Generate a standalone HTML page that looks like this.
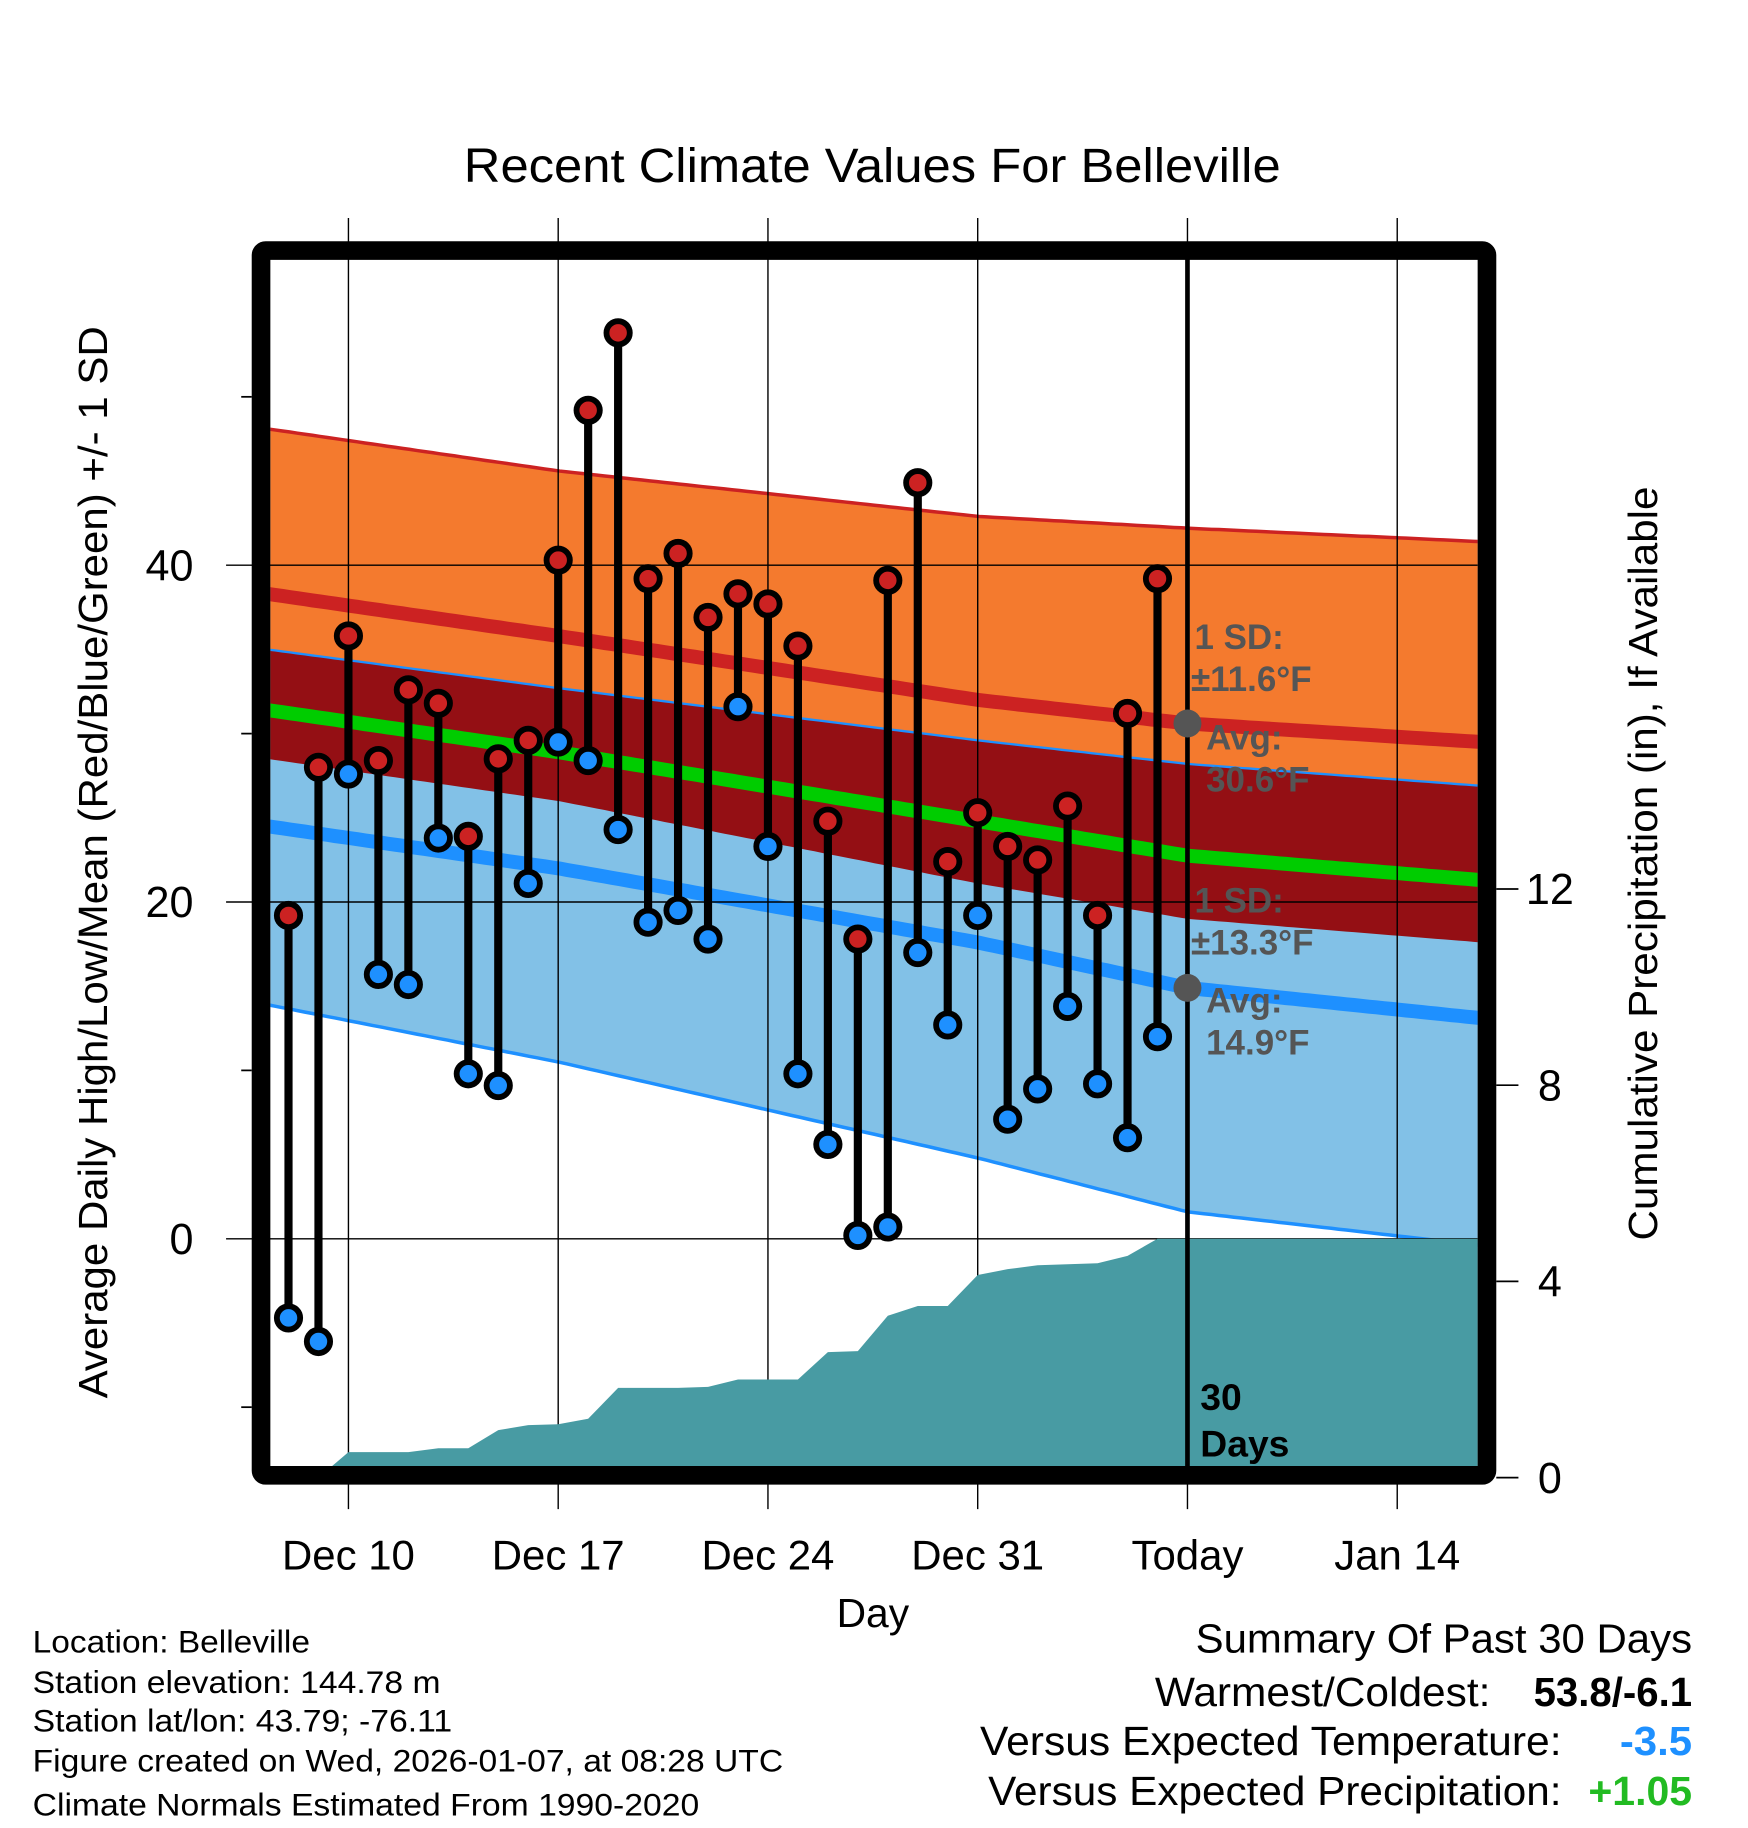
<!DOCTYPE html>
<html><head><meta charset="utf-8"><style>
html,body{margin:0;padding:0;background:#fff;}
svg{display:block;font-family:"Liberation Sans",sans-serif;}
</style></head><body>
<svg id="chart" width="1748" height="1828" viewBox="0 0 1500 1568.6" xmlns="http://www.w3.org/2000/svg">
<text x="748.5" y="156" font-size="41" text-anchor="middle" textLength="701" lengthAdjust="spacingAndGlyphs">Recent Climate Values For Belleville</text>
<defs><clipPath id="plotclip"><rect x="232" y="222" width="1036" height="1036"/></clipPath></defs>
<g id="bands" clip-path="url(#plotclip)"></g>
<g id="grid"></g>
<g id="precip" clip-path="url(#plotclip)"></g>
<g id="annot"></g>
<g id="marks"></g>
<rect x="224" y="215" width="1052" height="1051" fill="none" stroke="#000" stroke-width="16" rx="4"/>
<g id="axes"></g>
<text transform="translate(92,740) rotate(-90)" font-size="35" text-anchor="middle" textLength="920" lengthAdjust="spacingAndGlyphs">Average Daily High/Low/Mean (Red/Blue/Green) +/- 1 SD</text>
<text transform="translate(1422,741) rotate(-90)" font-size="35" text-anchor="middle" textLength="647" lengthAdjust="spacingAndGlyphs">Cumulative Precipitation (in), If Available</text>
<text x="749" y="1396" font-size="35" text-anchor="middle">Day</text>
<g font-size="27">
<text x="28" y="1418" textLength="238" lengthAdjust="spacingAndGlyphs">Location: Belleville</text>
<text x="28" y="1453" textLength="350" lengthAdjust="spacingAndGlyphs">Station elevation: 144.78 m</text>
<text x="28" y="1486" textLength="360" lengthAdjust="spacingAndGlyphs">Station lat/lon: 43.79; -76.11</text>
<text x="28" y="1520" textLength="644" lengthAdjust="spacingAndGlyphs">Figure created on Wed, 2026-01-07, at 08:28 UTC</text>
<text x="28" y="1558" textLength="572" lengthAdjust="spacingAndGlyphs">Climate Normals Estimated From 1990-2020</text>
</g>
<g font-size="35">
<text x="1026" y="1418" textLength="426" lengthAdjust="spacingAndGlyphs">Summary Of Past 30 Days</text>
<text x="991" y="1464" textLength="288" lengthAdjust="spacingAndGlyphs">Warmest/Coldest:</text>
<text x="1316" y="1464" font-weight="bold" textLength="136" lengthAdjust="spacingAndGlyphs">53.8/-6.1</text>
<text x="841" y="1506" textLength="499" lengthAdjust="spacingAndGlyphs">Versus Expected Temperature:</text>
<text x="1390" y="1506" font-weight="bold" fill="#1e90ff" textLength="62" lengthAdjust="spacingAndGlyphs">-3.5</text>
<text x="848" y="1549" textLength="492" lengthAdjust="spacingAndGlyphs">Versus Expected Precipitation:</text>
<text x="1363" y="1549" font-weight="bold" fill="#22bb22" textLength="89" lengthAdjust="spacingAndGlyphs">+1.05</text>
</g>
</svg>
<script>
const days=[-2,-1,0,1,2,3,4,5,6,7,8,9,10,11,12,13,14,15,16,17,18,19,20,21,22,23,24,25,26,27];
const highs=[19.2,28.0,35.8,28.4,32.6,31.8,23.9,28.5,29.6,40.3,49.2,53.8,39.2,40.7,36.9,38.3,37.7,35.2,24.8,17.8,39.1,44.9,22.4,25.3,23.3,22.5,25.7,19.2,31.2,39.2];
const lows=[-4.7,-6.1,27.6,15.7,15.1,23.8,9.8,9.1,21.1,29.5,28.4,24.3,18.8,19.5,17.8,31.6,23.3,9.8,5.6,0.2,0.7,17.0,12.7,19.2,7.1,8.9,13.8,9.2,6.0,12.0];
const precip=[0,0,0.52,0.52,0.52,0.6,0.6,0.97,1.07,1.09,1.2,1.83,1.83,1.83,1.85,2.0,2.0,2.0,2.56,2.58,3.3,3.5,3.5,4.13,4.25,4.33,4.35,4.37,4.52,4.87];
const normDays=[-2.7,7,21,28,37.8];
const hiMean=[38.3,35.8,32.0,30.6,29.5];
const hiSD=[9.8,9.8,10.9,11.6,11.9];
const loMean=[24.5,22.0,17.6,14.9,13.1];
const loSDup=[10.5,10.7,12.0,13.3,13.8];
const loSDdn=[10.6,11.5,12.8,13.3,13.5];
const xTickDays=[0,7,14,21,28,35];
const xTickLabels=['Dec 10','Dec 17','Dec 24','Dec 31','Today','Jan 14'];
const yTicks=[0,20,40];
const yMinor=[-10,10,30,50];
const y2Ticks=[0,4,8,12];

const NS='http://www.w3.org/2000/svg';
const X=d=>299+d*25.714;
const Y=v=>1063-v*14.45;
const Y2=p=>1268-p*42.1;
function el(tag,attrs,parent){const e=document.createElementNS(NS,tag);for(const k in attrs)e.setAttribute(k,attrs[k]);parent.appendChild(e);return e;}
function interp(arr,d){for(let i=0;i<normDays.length-1;i++){if(d<=normDays[i+1]){const t=(d-normDays[i])/(normDays[i+1]-normDays[i]);return arr[i]+t*(arr[i+1]-arr[i]);}}return arr[arr.length-1];}
const samp=[];for(let d=-2.7;d<=37.85;d+=0.25)samp.push(d);
const curve=f=>samp.map(d=>X(d).toFixed(1)+','+Y(f(d)).toFixed(1));
const hiTop=d=>interp(hiMean,d)+interp(hiSD,d);
const hiBot=d=>interp(hiMean,d)-interp(hiSD,d);
const loTop=d=>interp(loMean,d)+interp(loSDup,d);
const loBot=d=>interp(loMean,d)-interp(loSDdn,d);
const bands=document.getElementById('bands');
function band(f1,f2,fill,name){const p=curve(f1).concat(curve(f2).reverse());const e=el('polygon',{points:p.join(' '),fill:fill},bands);}
band(hiTop,hiBot,'#f47a2e','high-sd-band');
band(loTop,loBot,'#82c1e7','low-sd-band');
band(d=>Math.min(hiTop(d),loTop(d)),d=>Math.max(hiBot(d),loBot(d)),'#940f14','overlap-band');
function line(f,stroke,w,name){const e=el('polyline',{points:curve(f).join(' '),fill:'none',stroke:stroke,'stroke-width':w},bands);}
line(hiTop,'#cc2222',3,'high-plus-sd-line');
line(loTop,'#1e90ff',2,'low-plus-sd-line');
line(loBot,'#1e90ff',3,'low-minus-sd-line');
line(d=>interp(hiMean,d),'#cc2222',12,'normal-high-line');
line(d=>(interp(hiMean,d)+interp(loMean,d))/2,'#00cc00',12,'normal-mean-line');
line(d=>interp(loMean,d),'#1e90ff',12,'normal-low-line');

const grid=document.getElementById('grid');
xTickDays.forEach(d=>{const e=el('line',{x1:X(d),x2:X(d),y1:187,y2:1295,stroke:'#000','stroke-width':1.2},grid);});
yTicks.forEach(v=>{const e=el('line',{x1:194,x2:1268,y1:Y(v),y2:Y(v),stroke:'#000','stroke-width':1.2},grid);});

const pr=document.getElementById('precip');
const pp=[X(days[0])+','+Y2(0)];
days.forEach((d,i)=>pp.push(X(d)+','+Y2(precip[i])));
pp.push('1270,'+Y2(precip[precip.length-1]));pp.push('1270,'+Y2(0));
const pa=el('polygon',{points:pp.join(' '),fill:'#489ba3'},pr);



const an=document.getElementById('annot');
const tl=el('line',{x1:X(28),x2:X(28),y1:222,y2:1260,stroke:'#000','stroke-width':4},an);


function txt(x,y,s,fill,size,parent,name){const t=el('text',{x:x,y:y,'font-size':size,'font-weight':'bold',fill:fill},parent);t.textContent=s;return t;}
txt(1025,557,'1 SD:','#555',30,an,'high-sd-label');
txt(1022,593,'±11.6°F','#555',30,an,'high-sd-value');
txt(1035,643,'Avg:','#555',30,an,'high-avg-label');
txt(1035,679,'30.6°F','#555',30,an,'high-avg-value');
txt(1025,783,'1 SD:','#555',30,an,'low-sd-label');
txt(1022,819,'±13.3°F','#555',30,an,'low-sd-value');
txt(1035,869,'Avg:','#555',30,an,'low-avg-label');
txt(1035,905,'14.9°F','#555',30,an,'low-avg-value');
txt(1030,1210,'30','#000',32,an,'days-label-num');
txt(1030,1250,'Days','#000',32,an,'days-label');
const d1=el('circle',{cx:X(28),cy:Y(30.6),r:12,fill:'#555'},an);


const d2=el('circle',{cx:X(28),cy:Y(14.9),r:12,fill:'#555'},an);



const mk=document.getElementById('marks');
days.forEach((d,i)=>{
 const s=el('line',{x1:X(d),x2:X(d),y1:Y(highs[i]),y2:Y(lows[i]),stroke:'#000','stroke-width':7},mk);
 
 
});
days.forEach((d,i)=>{
 const h=el('circle',{cx:X(d),cy:Y(highs[i]),r:10,fill:'#cc2222',stroke:'#000','stroke-width':5},mk);
 
 
 const l=el('circle',{cx:X(d),cy:Y(lows[i]),r:10,fill:'#1e90ff',stroke:'#000','stroke-width':5},mk);
 
 
});

const ax=document.getElementById('axes');
yTicks.forEach(v=>{const t=el('text',{x:166,y:Y(v)+13,'font-size':37,'text-anchor':'end'},ax);t.textContent=v;});
yMinor.forEach(v=>{const e=el('line',{x1:207,x2:216,y1:Y(v),y2:Y(v),stroke:'#000','stroke-width':1.5},ax);});
y2Ticks.forEach(p=>{const e=el('line',{x1:1284,x2:1303,y1:Y2(p),y2:Y2(p),stroke:'#000','stroke-width':1.5},ax);
 const t=el('text',{x:1330,y:Y2(p)+13,'font-size':37,'text-anchor':'middle'},ax);t.textContent=p;});
xTickDays.forEach((d,i)=>{const t=el('text',{x:X(d),y:1347,'font-size':36,'text-anchor':'middle'},ax);t.textContent=xTickLabels[i];});
</script>
</body></html>
